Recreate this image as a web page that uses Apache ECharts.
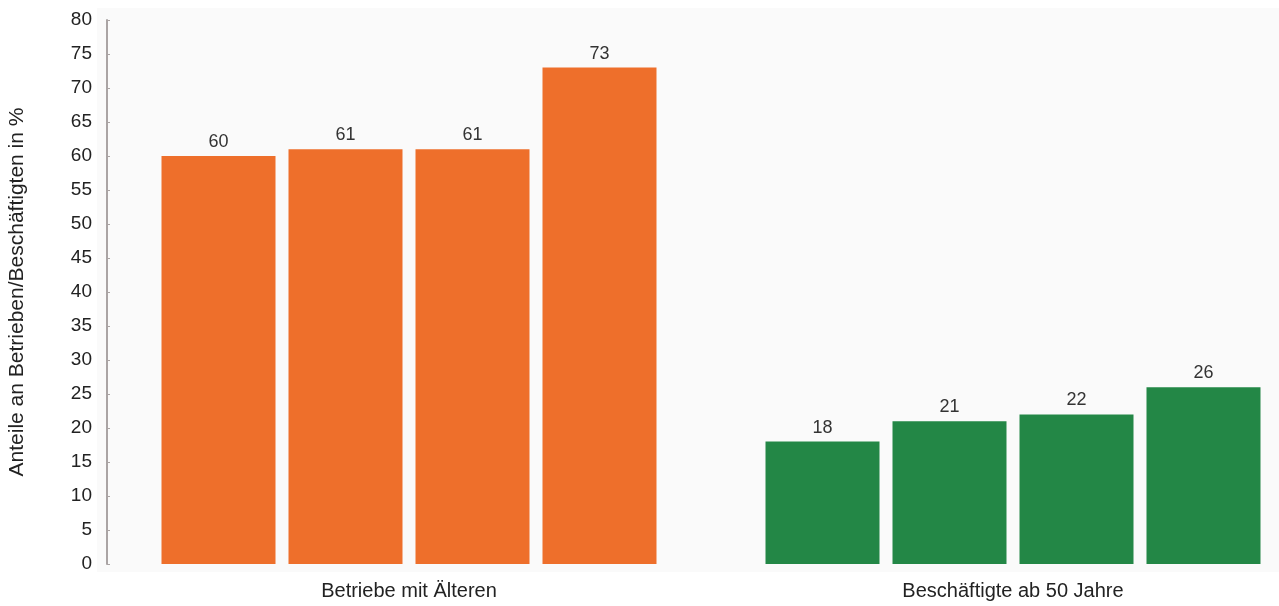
<!DOCTYPE html>
<html>
<head>
<meta charset="utf-8">
<script src="https://cdn.jsdelivr.net/npm/echarts@6/dist/echarts.min.js"></script>
<style>
  html, body { margin: 0; padding: 0; background: #ffffff; }
  #chart { width: 1279px; height: 606px; }
</style>
</head>
<body>
<div id="chart"></div>
<script>
// Categories and the four survey waves per category
const categories = ['Betriebe mit Älteren', 'Beschäftigte ab 50 Jahre'];
const wave1 = [60, 18];
const wave2 = [61, 21];
const wave3 = [61, 22];
const wave4 = [73, 26];
const yTicks = { min: 0, max: 80, step: 5 };
const yAxisTitle = 'Anteile an Betrieben/Beschäftigten in %';

const groupColors = ['#ee6f2b', '#238746'];
const font = 'Liberation Sans, Arial, sans-serif';

function makeSeries(values) {
  return {
    type: 'bar',
    barWidth: 114,
    barGap: '11.4%',
    data: values.map((v, i) => ({ value: v, itemStyle: { color: groupColors[i] } })),
    label: {
      show: true,
      position: 'top',
      distance: 5,
      color: '#333333',
      fontSize: 18,
      fontFamily: font
    }
  };
}

const chart = echarts.init(document.getElementById('chart'), null, { renderer: 'canvas' });
chart.setOption({
  backgroundColor: '#ffffff',
  animation: false,
  graphic: [{
    type: 'rect',
    left: 97, top: 8,
    shape: { width: 1182, height: 564 },
    style: { fill: '#fafafa' },
    z: -10
  }],
  // the second group sits close to the right edge, so the grid runs past the canvas
  grid: { left: 107, width: 1208, top: 20, bottom: 42, containLabel: false, outerBoundsMode: 'none' },
  xAxis: {
    type: 'category',
    data: categories,
    axisLine: { show: false },
    axisTick: { show: false },
    axisLabel: { color: '#222222', fontSize: 20, fontFamily: font, margin: 17 }
  },
  yAxis: {
    type: 'value',
    min: yTicks.min,
    max: yTicks.max,
    interval: yTicks.step,
    name: yAxisTitle,
    nameLocation: 'middle',
    nameGap: 79,
    nameTextStyle: { color: '#222222', fontSize: 21, fontFamily: font },
    axisLine: { show: true, lineStyle: { color: '#aaa4a4', width: 2 } },
    axisTick: { show: true, inside: true, length: 3, lineStyle: { color: '#aaa4a4' } },
    axisLabel: { color: '#222222', fontSize: 19, fontFamily: font, margin: 15 },
    splitLine: { show: false }
  },
  series: [makeSeries(wave1), makeSeries(wave2), makeSeries(wave3), makeSeries(wave4)]
});
</script>
</body>
</html>
